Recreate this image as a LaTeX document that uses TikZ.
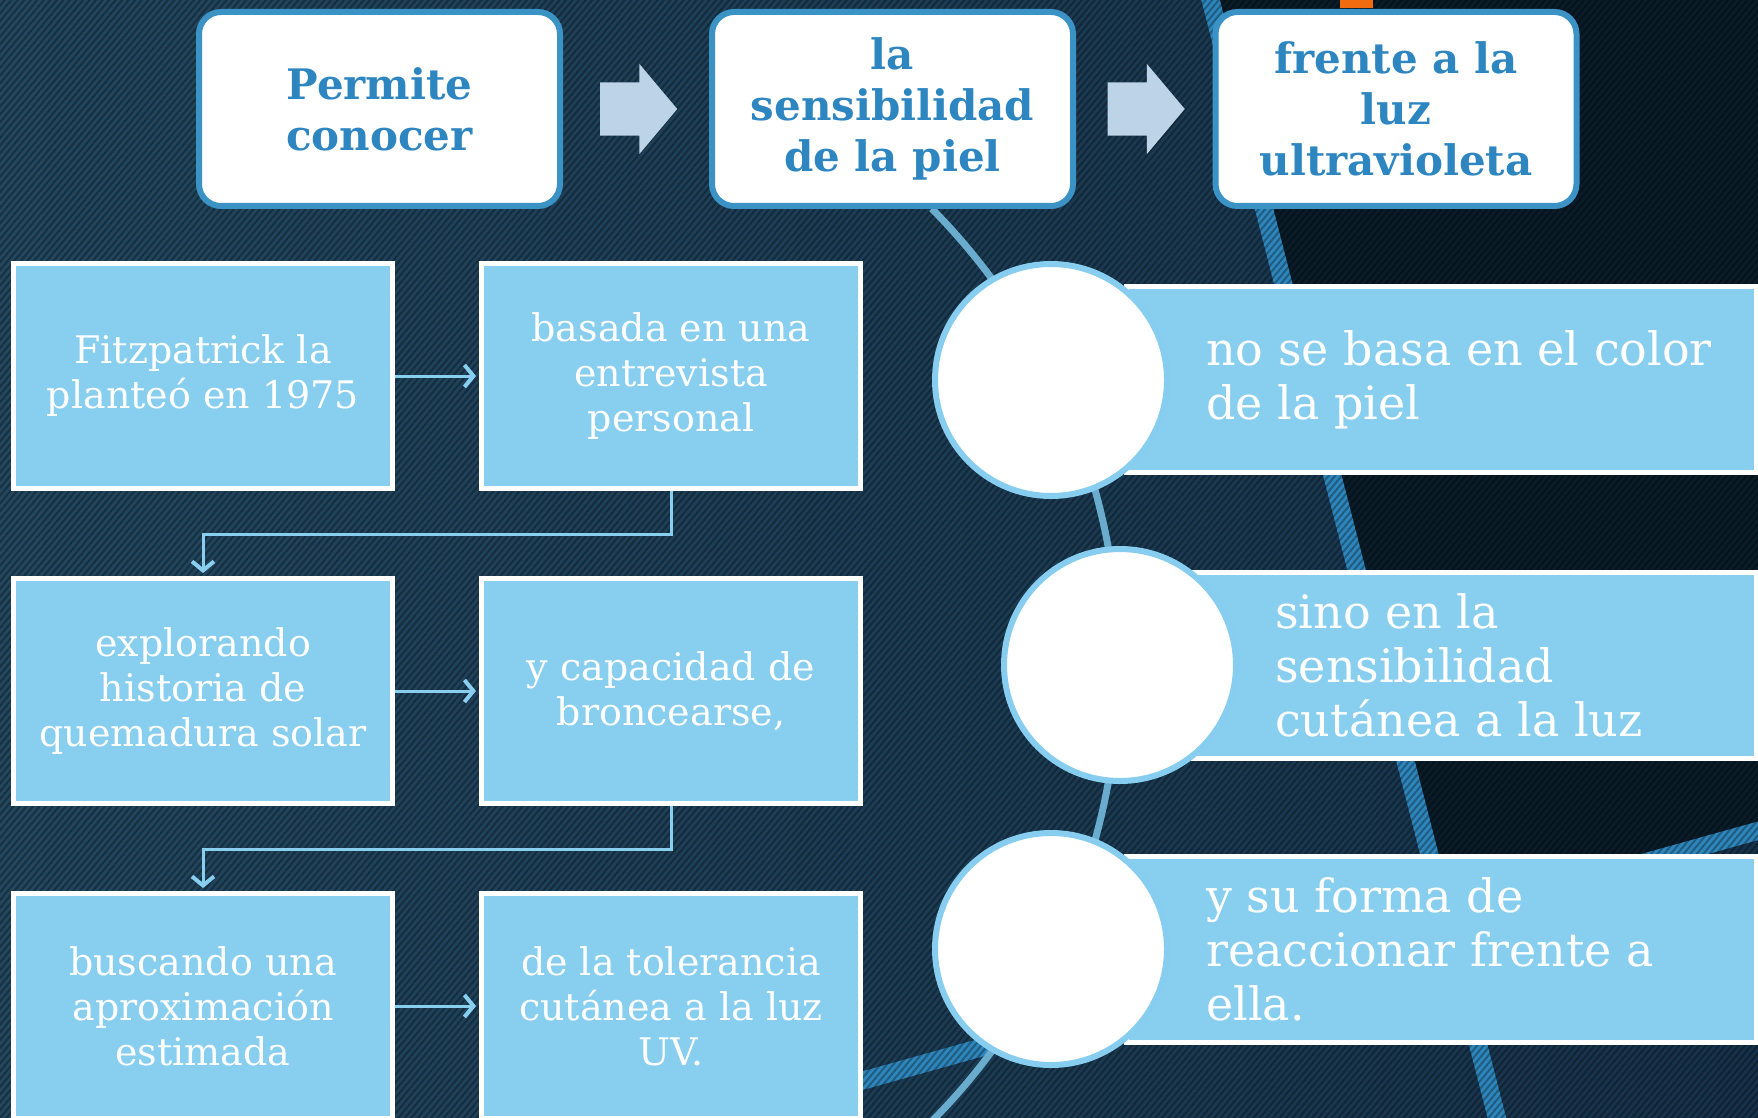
\documentclass[tikz,border=0pt]{standalone}
\usepackage{fontspec}
\setmainfont{DejaVu Serif}
\usetikzlibrary{positioning,arrows.meta,shapes.arrows,patterns.meta}

\definecolor{bgleft}{HTML}{22475F}
\definecolor{bgright}{HTML}{16324A}
\definecolor{bgdark}{HTML}{0B1C29}
\definecolor{bandblue}{HTML}{2F86BC}
\definecolor{skyfill}{HTML}{87CEEF}
\definecolor{frameblue}{HTML}{3A93C4}
\definecolor{titleblue}{HTML}{2E86C1}
\definecolor{arrowpale}{HTML}{BCD3E8}
\definecolor{spinecol}{HTML}{6AACCD}
\definecolor{ringblue}{HTML}{86CDF0}
\definecolor{tiporange}{HTML}{F26B0F}

\begin{document}
\begin{tikzpicture}[
% Look
	x=1pt, y=-1pt,
	on grid,
	title/.style={rectangle, rounded corners=22pt, draw=frameblue, line width=6pt,
		fill=white, minimum width=361pt, minimum height=194pt, align=center,
		text=titleblue, font=\bfseries\fontsize{42}{51}\selectfont},
	blockarrow/.style={single arrow, fill=arrowpale, minimum height=77pt,
		inner xsep=0pt, inner ysep=26.5pt, single arrow head extend=18.5pt,
		single arrow tip angle=100},
	cell/.style={rectangle, draw=white, line width=5pt, fill=skyfill,
		minimum width=379pt, minimum height=225pt, align=center, text=white,
		font=\fontsize{38}{45}\selectfont},
	banner/.style={rectangle, draw=white, line width=5pt, fill=skyfill,
		minimum height=186pt, anchor=west, inner sep=0pt},
	bantext/.style={anchor=west, align=left, text=white, inner sep=0pt,
		font=\fontsize{46}{54}\selectfont},
	disc/.style={circle, draw=ringblue, line width=6pt, fill=white,
		minimum size=232pt},
	link/.style={draw=skyfill, line width=3pt, shorten >=3pt,
		-{Straight Barb[length=9pt, width=22pt, line width=4pt]}},
	band/.style={draw=bandblue, line width=18pt},
	spine/.style={draw=spinecol, line width=7pt}]

\useasboundingbox (0,0) rectangle (1758,1118);
\clip (0,0) rectangle (1758,1118);

% Background
\shade[left color=bgleft, right color=bgright] (0,0) rectangle (1758,1118);
\fill[bgdark] (1217,0) -- (1758,0) -- (1758,830) -- (1445,911) -- cycle;
\draw[band] (1208,-10) -- (1500,1130);
\draw[band] (1775,826) -- (700,1126);
\fill[pattern={Lines[angle=50, distance=5pt, line width=2pt]},
	pattern color=black, opacity=0.3] (0,0) rectangle (1758,1118);
\fill[tiporange] (1340,0) rectangle (1373,8);

% Spine behind the discs
\coordinate (hub) at (469,665);
\draw[spine] (hub) ++(-44.6:650) arc[start angle=-44.6, end angle=44.6, radius=650];

% Title row
\node[title] (top1) at (379.5,109) {Permite\\conocer};
\node[title, right=513pt of top1] (top2) {la\\sensibilidad\\de la piel};
\node[title, right=503.5pt of top2] (top3) {frente a la\\luz\\ultravioleta};

% Block arrows
\node[blockarrow, right=248pt of top1] (ar1) {};
\node[blockarrow, right=242.5pt of top2] (ar2) {};

% Row 1
\node[cell] (fitz) at (203,376) {Fitzpatrick la\\planteó en 1975};
\node[cell, right=468pt of fitz] (entrev) {basada en una\\entrevista\\personal};

% Row 2
\node[cell, below=315pt of fitz] (explor) {explorando\\historia de\\quemadura solar};
\node[cell, right=468pt of explor] (capac) {y capacidad de\\broncearse,};

% Row 3
\node[cell, below=315pt of explor] (busca) {buscando una\\aproximación\\estimada};
\node[cell, right=468pt of busca] (toler) {de la tolerancia\\cutánea a la luz\\UV.};

% Connections
\draw[link] (fitz) -- (entrev);
\draw[link] (explor) -- (capac);
\draw[link] (busca) -- (toler);
\draw[link] (entrev.south) -- ++(0,43) -| (explor.north);
\draw[link] (capac.south) -- ++(0,43) -| (busca.north);

% Banners
\node[banner, minimum width=630pt] (ban1) at (1123.5,379.5) {};
\node[banner, minimum width=563pt] (ban2) at (1190.5,665) {};
\node[banner, minimum width=630pt] (ban3) at (1123.5,949.5) {};

% Discs
\node[disc] (c1) at (1051,380) {};
\node[disc] (c2) at (1120,665) {};
\node[disc] (c3) at (1051,949) {};

% Banner texts
\node[bantext] (t1) at ([xshift=36pt]c1.east) {no se basa en el color\\de la piel};
\node[bantext] (t2) at ([xshift=36pt]c2.east) {sino en la\\sensibilidad\\cutánea a la luz};
\node[bantext] (t3) at ([xshift=36pt]c3.east) {y su forma de\\reaccionar frente a\\ella.};

\end{tikzpicture}
\end{document}
